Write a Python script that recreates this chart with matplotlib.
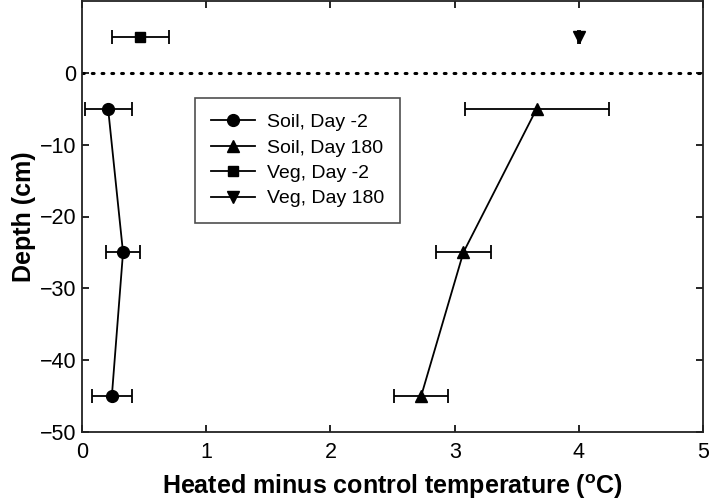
import matplotlib.pyplot as plt

plt.rcParams['font.family'] = ['Liberation Sans', 'DejaVu Sans']

# depths (cm) and heated-minus-control temperature (C) with error
soil_depth = [-5, -25, -45]
soil_d2 = [0.21, 0.33, 0.24]
soil_d2_err = [0.19, 0.14, 0.16]
soil_d180 = [3.66, 3.07, 2.73]
soil_d180_err = [0.58, 0.22, 0.22]

veg_depth = [5]
veg_d2 = [0.47]
veg_d2_err = [0.23]
veg_d180 = [4.0]
veg_d180_err = [0.005]

fig = plt.figure(figsize=(7.09, 5.0), dpi=100)
ax = fig.add_axes([0.1157, 0.136, 0.876, 0.862])

ax.axhline(0, color='black', linestyle=(0, (0.6, 2.6)), linewidth=2.2, dash_capstyle='round')

style = dict(color='black', linewidth=1.3, elinewidth=1.3, capsize=5, capthick=1.3)
ax.errorbar(soil_d2, soil_depth, xerr=soil_d2_err, marker='o', markersize=8.5,
            label='Soil, Day -2', **style)
ax.errorbar(soil_d180, soil_depth, xerr=soil_d180_err, marker='^', markersize=8.5,
            label='Soil, Day 180', **style)
ax.errorbar(veg_d2, veg_depth, xerr=veg_d2_err, marker='s', markersize=7.5,
            label='Veg, Day -2', **style)
ax.errorbar(veg_d180, veg_depth, xerr=veg_d180_err, marker='v', markersize=8.5,
            label='Veg, Day 180', **style)

ax.set_xlim(0, 5)
ax.set_ylim(-50, 10)
ax.set_xticks(range(0, 6))
ax.set_yticks(range(-50, 1, 10))
ax.tick_params(direction='in', top=True, right=True, length=5, width=1.2,
               labelsize=15.5)
ax.tick_params(axis='x', pad=7)
ax.tick_params(axis='y', pad=4)
for s in ax.spines.values():
    s.set_linewidth(1.3)
    s.set_color('#222222')

ax.set_xlabel('Heated minus control temperature ($\\mathregular{^{o}}$C)',
              fontsize=18, fontweight='bold', labelpad=7)
ax.set_ylabel('Depth (cm)', fontsize=18, fontweight='bold', labelpad=3)

handles, labels = ax.get_legend_handles_labels()
handles = [h[0] for h in handles]
leg = ax.legend(handles, labels, loc='upper left', bbox_to_anchor=(0.182, 0.775),
                borderaxespad=0, fontsize=14, frameon=True, fancybox=False,
                edgecolor='#222222', handlelength=2.3, borderpad=0.8,
                labelspacing=0.4, handletextpad=0.6)
leg.get_frame().set_linewidth(1.2)

fig.savefig('out.png', dpi=100)
